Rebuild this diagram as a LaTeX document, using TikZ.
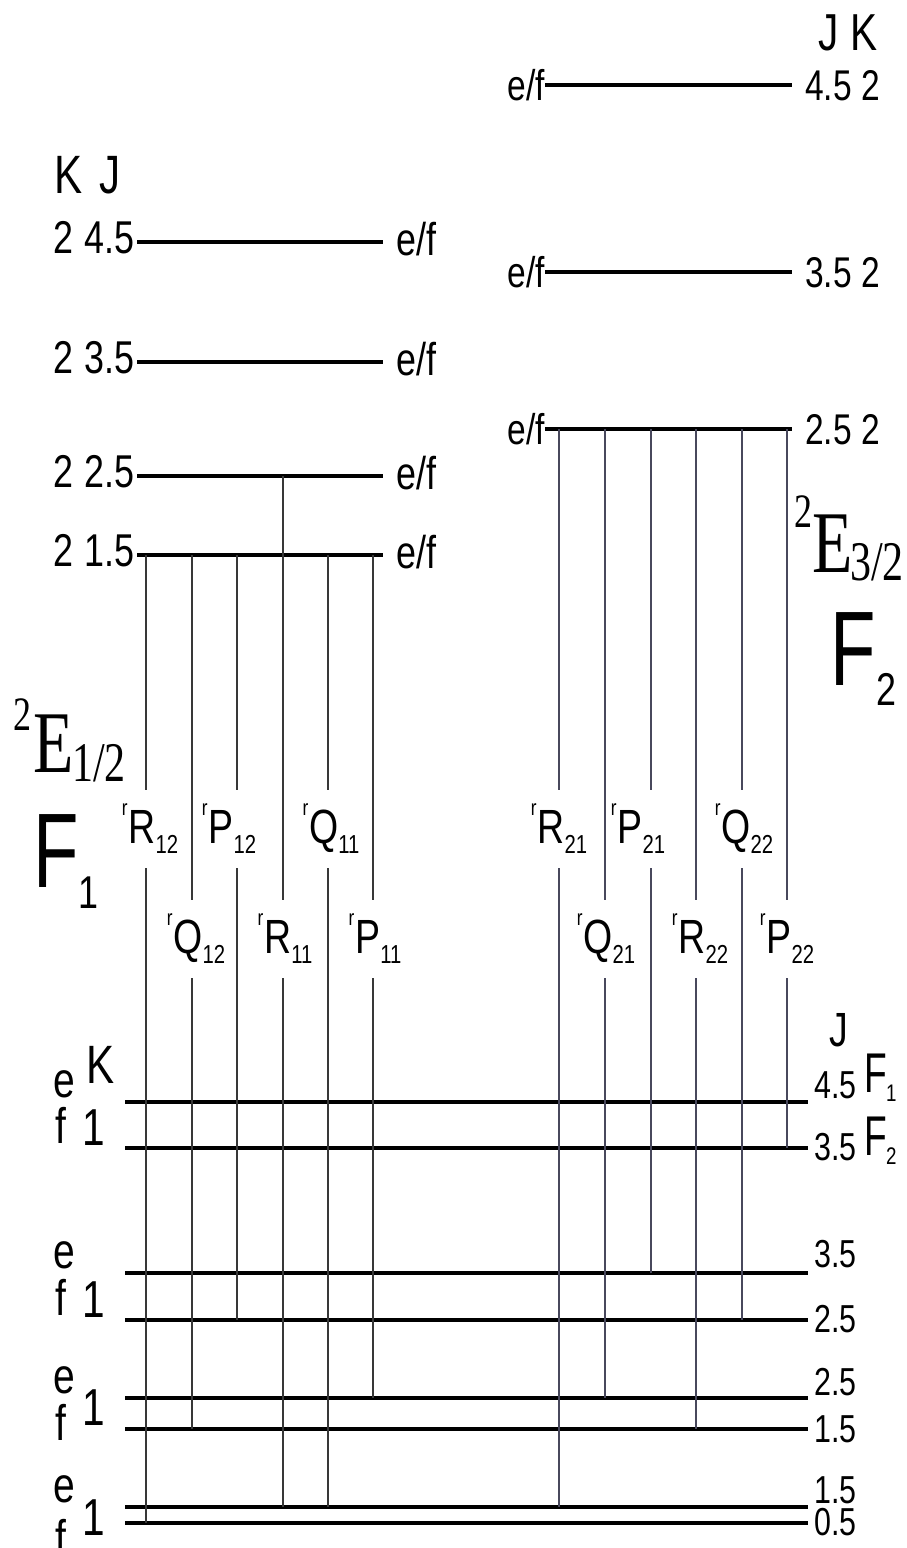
\documentclass[tikz,border=0pt]{standalone}
\usepackage{fontspec}
\setmainfont{Liberation Sans}
\newfontfamily\nsans[FakeStretch=0.78]{Liberation Sans}
\newfontfamily\nserif[FakeStretch=0.75]{Liberation Serif}
\newcommand\fsz[1]{\fontsize{#1}{#1}\selectfont}
\newcommand\trl[2]{{\fsz{22}\raisebox{28pt}{r}}\kern1pt{\fsz{48}#1}{\fsz{26}\raisebox{-10pt}{#2}}}
\tikzset{
  lvl/.style={line width=3.5pt,black},
  trL/.style={line width=2.4pt,black!78},
  trR/.style={line width=2.4pt,color={rgb,255:red,72;green,72;blue,92}},
  txt/.style={inner sep=0pt,anchor=base west,font=\nsans\fsz{46}},
  txte/.style={inner sep=0pt,anchor=base east,font=\nsans\fsz{46}},
  tlab/.style={inner sep=0pt,minimum height=78pt,font=\nsans},
  ser/.style={inner sep=0pt,anchor=base west,font=\nserif},
}
\begin{document}
\begin{tikzpicture}[x=1pt,y=-1pt]
\useasboundingbox (0,0) rectangle (907,1548);

% ---------- upper left levels (F1, K=2) ----------
\node[txt,font=\nsans\fsz{54}] (KL) at (54,193) {K};
\node[txt,font=\nsans\fsz{54}] (JL) at (99,193) {J};
\foreach \y/\j/\n in {242/4.5/a,362/3.5/b,476/2.5/c,555/1.5/d}{
  \coordinate (ul\n1) at (137,\y);
  \coordinate (ul\n2) at (383,\y);
  \draw[lvl] (ul\n1) -- (ul\n2);
  \node[txt] (ulK\n) at (53,\y+11) {2};
  \node[txte] (ulJ\n) at (135,\y+11) {\j};
  \node[txt] (ulP\n) at (396,\y+13) {e/f};
}

% ---------- upper right levels (F2, K=2) ----------
\node[txt,font=\nsans\fsz{52}] (JR) at (818,50) {J};
\node[txt,font=\nsans\fsz{52}] (KR) at (850,50) {K};
\foreach \y/\j/\n in {85/4.5/a,272/3.5/b,429/2.5/c}{
  \coordinate (ur\n1) at (545,\y);
  \coordinate (ur\n2) at (792,\y);
  \draw[lvl] (ur\n1) -- (ur\n2);
  \node[txte,font=\nsans\fsz{43}] (urP\n) at (545,\y+15) {e/f};
  \node[txt,font=\nsans\fsz{43}] (urJ\n) at (805,\y+15) {\j};
  \node[txt,font=\nsans\fsz{43}] (urK\n) at (861,\y+15) {2};
}

% ---------- lower levels (K=1) ----------
\foreach \y/\n in {1102/a,1148/b,1273/c,1320/d,1398/e,1429/f,1507/g,1523/h}{
  \coordinate (lo\n1) at (125,\y);
  \coordinate (lo\n2) at (808,\y);
  \draw[lvl] (lo\n1) -- (lo\n2);
}
% left labels
\node[txt,font=\nsans\fsz{54}] (KLo) at (86,1083) {K};
\foreach \ye/\yf/\yo/\n in {1097/1143/1145/a,1268/1315/1317/b,1393/1440/1425/c,1502/1555/1535/d}{
  \node[txt,font=\nsans\fsz{50}] (pe\n) at (53,\ye) {e};
  \node[txt,font=\nsans\fsz{50}] (pf\n) at (55,\yf) {f};
  \node[txt,font=\nsans\fsz{52}] (one\n) at (82,\yo) {1};
}
% right labels
\node[txt,font=\nsans\fsz{48}] (JLo) at (829,1046) {J};
\foreach \y/\j/\n in {1098/4.5/a,1160/3.5/b,1267/3.5/c,1332/2.5/d,1395/2.5/e,1442/1.5/f,1503/1.5/g,1535/0.5/h}{
  \node[txt,font=\nsans\fsz{39}] (rj\n) at (814,\y) {\j};
}
\node[txt,font=\nsans\fsz{56}] (F1s) at (864,1092) {\scalebox{0.85}[1]{F}};
\node[txt,font=\nsans\fsz{24}] (F1n) at (886,1101) {1};
\node[txt,font=\nsans\fsz{56}] (F2s) at (864,1155) {\scalebox{0.85}[1]{F}};
\node[txt,font=\nsans\fsz{24}] (F2n) at (886,1164) {2};

% ---------- state labels ----------
\node[ser,font=\nserif\fsz{48}] (eL2) at (13,730) {2};
\node[ser,font=\nserif\fsz{88}] (eLE) at (33,772) {E};
\node[ser,font=\nserif\fsz{56}] (eLs) at (72,781) {1/2};
\node[txt,font=\nsans\fsz{106}] (FL) at (33,887) {\scalebox{0.9}[1]{F}};
\node[txt,font=\nsans\fsz{46}] (FLs) at (78,908) {1};

\node[ser,font=\nserif\fsz{48}] (eR2) at (794,527) {2};
\node[ser,font=\nserif\fsz{88}] (eRE) at (812,572) {E};
\node[ser,font=\nserif\fsz{56}] (eRs) at (850,580) {3/2};
\node[txt,font=\nsans\fsz{106}] (FR) at (830,685) {\scalebox{0.9}[1]{F}};
\node[txt,font=\nsans\fsz{46}] (FRs) at (876,705) {2};

% ---------- transitions ----------
\foreach \x/\yt/\yb/\lx/\ly/\L/\s/\n/\st in {
  146/555/1523/150/829/R/12/R12/trL,
  192/555/1429/196/939/Q/12/Q12/trL,
  237/555/1320/229/829/P/12/P12/trL,
  283/476/1507/285/939/R/11/R11/trL,
  328/555/1507/331/829/Q/11/Q11/trL,
  373/555/1398/375/939/P/11/P11/trL,
  559/429/1507/559/829/R/21/R21/trR,
  605/429/1398/606/939/Q/21/Q21/trR,
  651/429/1273/638/829/P/21/P21/trR,
  696/429/1429/700/939/R/22/R22/trR,
  742/429/1320/744/829/Q/22/Q22/trR,
  787/429/1148/787/939/P/22/P22/trR}{
  \coordinate (t\n) at (\x,\yt);
  \coordinate (b\n) at (\x,\yb);
  \node[tlab] (l\n) at (\lx,\ly) {\trl{\L}{\s}};
  \draw[\st] (t\n) -- (t\n |- l\n.north);
  \draw[\st] (l\n.south -| b\n) -- (b\n);
}
\end{tikzpicture}
\end{document}
